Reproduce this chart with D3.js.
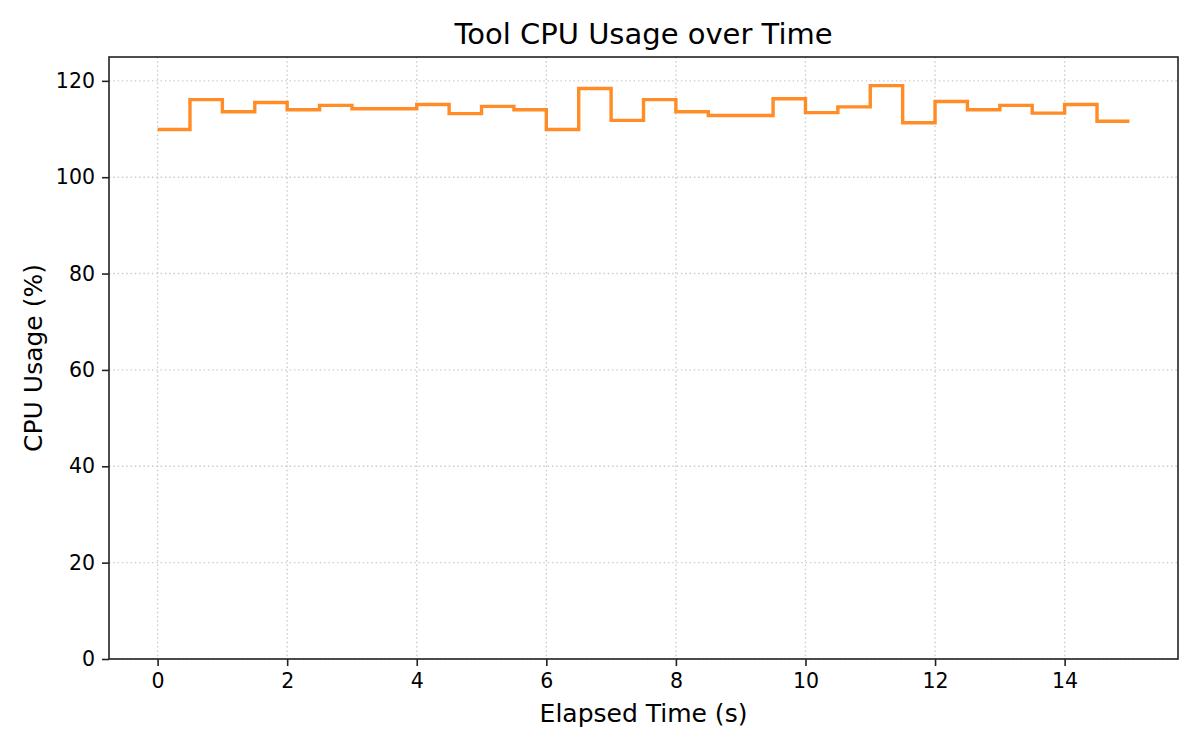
<!DOCTYPE html>
<html>
<head>
<meta charset="utf-8">
<script src="https://cdn.jsdelivr.net/npm/d3@7"></script>
<style>
  html, body { margin: 0; padding: 0; background: #fff; }
  svg { display: block; font-family: "DejaVu Sans", sans-serif; }
</style>
</head>
<body>
<div id="chart"></div>
<script>
// elapsed time (s) and tool CPU usage (%)
const elapsed = [0, 0.5, 1, 1.5, 2, 2.5, 3, 3.5, 4, 4.5, 5, 5.5, 6, 6.5, 7, 7.5,
                 8, 8.5, 9, 9.5, 10, 10.5, 11, 11.5, 12, 12.5, 13, 13.5, 14, 14.5, 15];
const cpu = [109.9, 116.1, 113.6, 115.5, 114.0, 114.9, 114.2, 114.2, 115.1, 113.2,
             114.7, 114.0, 109.9, 118.4, 111.8, 116.1, 113.6, 112.8, 112.8, 116.3,
             113.4, 114.6, 119.0, 111.3, 115.7, 114.0, 114.9, 113.3, 115.1, 111.6, 111.6];
const xTicks = [0, 2, 4, 6, 8, 10, 12, 14];
const yTicks = [0, 20, 40, 60, 80, 100, 120];

const W = 1200, H = 750;
const margin = { top: 57, right: 22, bottom: 91, left: 109 };
const width = W - margin.left - margin.right;
const height = H - margin.top - margin.bottom;

const svg = d3.select("#chart")
    .append("svg")
    .attr("width", W)
    .attr("height", H);

const g = svg.append("g")
    .attr("transform", `translate(${margin.left},${margin.top})`);

// matplotlib-like 5% padding on x
const xMin = d3.min(elapsed), xMax = d3.max(elapsed);
const pad = (xMax - xMin) * 0.05;
const x = d3.scaleLinear()
    .domain([xMin - pad, xMax + pad])
    .range([0, width]);

const y = d3.scaleLinear()
    .domain([0, d3.max(cpu) * 1.05])
    .range([height, 0]);

// grid
g.append("g")
    .selectAll("line")
    .data(xTicks)
    .enter()
    .append("line")
        .attr("x1", d => x(d)).attr("x2", d => x(d))
        .attr("y1", 0).attr("y2", height)
        .attr("stroke", "#cccccc")
        .attr("stroke-width", 1.4)
        .attr("stroke-dasharray", "1.5,2.8");

g.append("g")
    .selectAll("line")
    .data(yTicks)
    .enter()
    .append("line")
        .attr("x1", 0).attr("x2", width)
        .attr("y1", d => y(d)).attr("y2", d => y(d))
        .attr("stroke", "#cccccc")
        .attr("stroke-width", 1.4)
        .attr("stroke-dasharray", "1.5,2.8");

// step line
const line = d3.line()
    .x((d, i) => x(elapsed[i]))
    .y(d => y(d))
    .curve(d3.curveStepAfter);

g.append("path")
    .datum(cpu)
    .attr("fill", "none")
    .attr("stroke", "#ff7f0e")
    .attr("stroke-opacity", 0.9)
    .attr("stroke-width", 3.4)
    .attr("stroke-linejoin", "miter")
    .attr("d", line);

// axes
const xAxis = g.append("g")
    .attr("transform", `translate(0,${height})`)
    .call(d3.axisBottom(x).tickValues(xTicks).tickSize(7).tickPadding(7).tickSizeOuter(0));

const yAxis = g.append("g")
    .call(d3.axisLeft(y).tickValues(yTicks).tickSize(7).tickPadding(7).tickSizeOuter(0));

[xAxis, yAxis].forEach(a => {
    a.select(".domain").remove();
    a.selectAll(".tick line").attr("stroke", "#222").attr("stroke-width", 1.6);
    a.selectAll(".tick text")
        .attr("fill", "#000")
        .style("font-size", "20.5px")
        .style("font-family", "DejaVu Sans");
});

// frame
g.append("rect")
    .attr("x", 0).attr("y", 0)
    .attr("width", width).attr("height", height)
    .attr("fill", "none")
    .attr("stroke", "#222")
    .attr("stroke-width", 1.6);

// labels
svg.append("text")
    .attr("x", margin.left + width / 2)
    .attr("y", 44)
    .attr("text-anchor", "middle")
    .style("font-size", "29px")
    .text("Tool CPU Usage over Time");

svg.append("text")
    .attr("x", margin.left + width / 2)
    .attr("y", 722)
    .attr("text-anchor", "middle")
    .style("font-size", "25px")
    .text("Elapsed Time (s)");

svg.append("text")
    .attr("transform", `translate(42,${margin.top + height / 2}) rotate(-90)`)
    .attr("text-anchor", "middle")
    .style("font-size", "25px")
    .text("CPU Usage (%)");
</script>
</body>
</html>
